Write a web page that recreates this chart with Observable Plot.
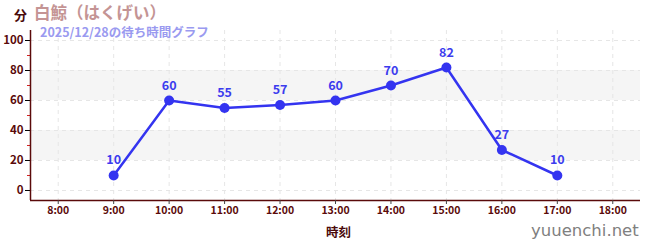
<!DOCTYPE html>
<html><head><meta charset="utf-8">
<script src="https://cdn.jsdelivr.net/npm/d3@7"></script>
<script src="https://cdn.jsdelivr.net/npm/@observablehq/plot@0.6"></script>
<style>
body{margin:0;background:#fff;font-family:"Noto Sans CJK JP","Noto Sans",sans-serif;}
#wrap{position:relative;width:650px;height:250px;}
.t{position:absolute;white-space:nowrap;font-weight:bold;}
</style></head>
<body><div id="wrap">
<div class="t" style="left:14px;top:5px;font-size:13px;color:#4a0a0a;">分</div>
<div class="t" style="left:34px;top:0px;font-size:16.5px;color:#c49494;">白鯨（はくげい）</div>
<div class="t" style="left:40px;top:22px;font-size:12.5px;color:#9a9af0;">2025/12/28の待ち時間グラフ</div>
<div class="t" style="left:531px;top:221px;font-size:16.5px;color:#808080;font-weight:normal;font-family:'DejaVu Sans',sans-serif;">yuuenchi.net</div>
</div>
<script>
const hours = [9,10,11,12,13,14,15,16,17];
const waits = [10,60,55,57,60,70,82,27,10];
const xTicks = [8,9,10,11,12,13,14,15,16,17,18];
const yTicks = [0,20,40,60,80,100];
const yMinor = [10,30,50,70,90];
const bands = [[20,40],[60,80]];

const data = hours.map((h,i)=>({h, w: waits[i]}));
const bandData = bands.map(([a,b])=>({a,b}));
const axisColor = "#5a0a0a";

const chart = Plot.plot({
  width: 650, height: 250,
  marginLeft: 30, marginRight: 10, marginTop: 30, marginBottom: 50,
  style: {fontFamily: "'Noto Sans CJK JP','Noto Sans',sans-serif", background: "transparent"},
  x: {domain: [7.5, 18.5], axis: null},
  y: {domain: [-6.67, 106.67], axis: null},
  marks: [
    Plot.rect(bandData, {x1: 7.5, x2: 18.5, y1: "a", y2: "b", fill: "#f5f5f5"}),
    Plot.ruleY(yTicks, {stroke: "#e6e6e6", strokeDasharray: "4,4"}),
    Plot.ruleX(xTicks, {stroke: "#e6e6e6", strokeDasharray: "4,4"}),
    Plot.line(data, {x: "h", y: "w", stroke: "#3434f0", strokeWidth: 2.5}),
    Plot.dot(data, {x: "h", y: "w", r: 5, fill: "#3434f0"}),
    Plot.text(data, {x: "h", y: "w", text: d => String(d.w), dy: -15, fill: "#3c3cee", fontSize: 12.5, fontWeight: "bold"}),
    Plot.axisY({ticks: yTicks, tickSize: 5, tickPadding: 2, tickFormat: d=>String(d), fontSize: 11.5, fontWeight: "bold", color: axisColor, stroke: "#000", label: null}),
    Plot.axisY({ticks: yMinor, tickSize: 3, tickFormat: () => "", stroke: "#d42020", label: null}),
    Plot.ruleX([7.5], {stroke: axisColor, strokeWidth: 1.5}),
    Plot.ruleY([-6.67], {stroke: axisColor, strokeWidth: 1.5}),
    Plot.axisX({ticks: xTicks, tickSize: 4, tickPadding: 2, tickFormat: d => d + ":00", fontSize: 10.5, fontWeight: "bold", color: axisColor, stroke: "#444", label: null}),
  ]
});
chart.style.position = "absolute";
chart.style.left = "0px";
chart.style.top = "0px";
const wrap = document.getElementById("wrap");
wrap.insertBefore(chart, wrap.firstChild);
const xl = document.createElement("div");
xl.className = "t";
xl.style.cssText = "left:326px;top:222px;font-size:12.5px;color:#4a0a0a;";
xl.textContent = "時刻";
wrap.appendChild(xl);
</script>
</body></html>
